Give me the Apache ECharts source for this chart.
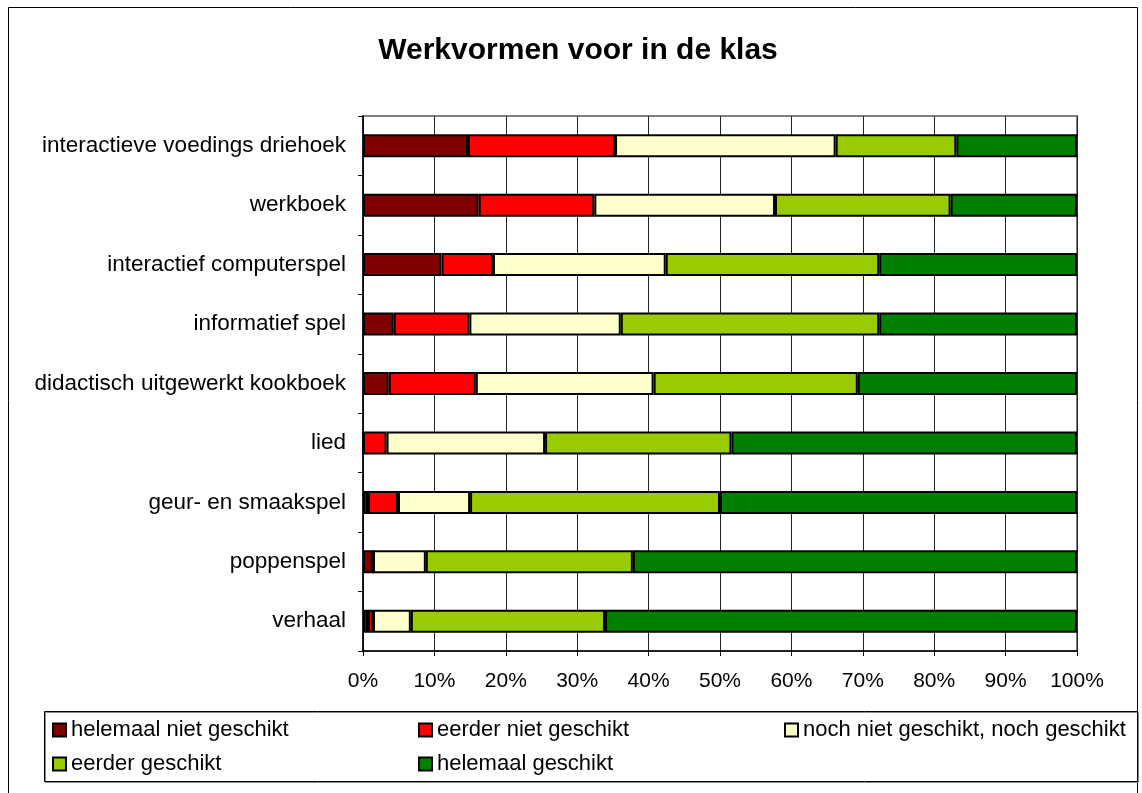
<!DOCTYPE html>
<html>
<head>
<meta charset="utf-8">
<script src="https://cdn.jsdelivr.net/npm/echarts@6/dist/echarts.min.js"></script>
<style>
  html, body { margin: 0; padding: 0; background: #fff; }
  #chart { width: 1142px; height: 793px; }
</style>
</head>
<body>
<div id="chart"></div>
<script>
// categories, top to bottom
const categories = [
  "interactieve voedings driehoek",
  "werkboek",
  "interactief computerspel",
  "informatief spel",
  "didactisch uitgewerkt kookboek",
  "lied",
  "geur- en smaakspel",
  "poppenspel",
  "verhaal"
];

// percentages per answer, same order as categories
const helemaalNiet = [14.7, 16.2, 11.0, 4.3, 3.6, 0, 0.7, 1.4, 0.7];
const eerderNiet = [20.6, 16.2, 7.2, 10.6, 12.2, 3.3, 4.2, 0, 0.7];
const nochNoch = [30.9, 25.3, 24.2, 21.2, 24.9, 22.2, 10.1, 7.4, 5.3];
const eerderGeschikt = [16.9, 24.6, 29.9, 36.2, 28.6, 26.1, 35.0, 29.0, 27.2];
const helemaalGeschikt = [16.9, 17.7, 27.7, 27.7, 30.7, 48.4, 50.0, 62.2, 66.1];

const seriesNames = [
  "helemaal niet geschikt",
  "eerder niet geschikt",
  "noch niet geschikt, noch geschikt",
  "eerder geschikt",
  "helemaal geschikt"
];
const seriesData = [helemaalNiet, eerderNiet, nochNoch, eerderGeschikt, helemaalGeschikt];
const colors = ["#800000", "#ff0000", "#ffffcc", "#99cc00", "#008000"];

const FONT = "'Liberation Sans', Arial, sans-serif";

let chart = echarts.init(document.getElementById("chart"));

// one legend block per column, like the excel layout
function legendCol(left, names) {
  return {
    orient: "vertical",
    left: left,
    top: 719,
    padding: 0,
    data: names,
    itemWidth: 13,
    itemHeight: 13,
    itemGap: 12,
    icon: "rect",
    selectedMode: false,
    textStyle: { fontFamily: FONT, fontSize: 22, color: "#000" },
    itemStyle: { borderColor: "#000", borderWidth: 2 }
  };
}

let option = {
  animation: false,
  color: colors,
  title: {
    text: "Werkvormen voor in de klas",
    left: 573,
    textAlign: "center",
    top: 31,
    textStyle: { fontFamily: FONT, fontSize: 30, fontWeight: "bold", color: "#000" }
  },
  legend: [
    legendCol(52, [seriesNames[0], seriesNames[3]]),
    legendCol(418, [seriesNames[1], seriesNames[4]]),
    legendCol(784, [seriesNames[2]])
  ],
  grid: {
    left: 363,
    top: 116,
    right: 65,
    bottom: 142,
    show: true,
    borderColor: "#808080",
    borderWidth: 2
  },
  xAxis: {
    type: "value",
    min: 0,
    max: 100,
    interval: 10,
    axisLine: { show: true, lineStyle: { color: "#000", width: 1.5 } },
    axisTick: { show: true, length: 5, lineStyle: { color: "#000" } },
    axisLabel: {
      formatter: "{value}%",
      fontFamily: FONT,
      fontSize: 21,
      color: "#000",
      margin: 20
    },
    splitLine: { show: true, lineStyle: { color: "#222", width: 1 } }
  },
  yAxis: {
    type: "category",
    inverse: true,
    data: categories,
    axisLine: { show: true, lineStyle: { color: "#000", width: 1.5 } },
    axisTick: { show: true, length: 5, alignWithLabel: false, lineStyle: { color: "#000" } },
    axisLabel: { fontFamily: FONT, fontSize: 22.5, color: "#000", margin: 17 },
    splitLine: { show: false }
  },
  series: seriesNames.map((name, i) => ({
    name: name,
    type: "bar",
    stack: "total",
    barWidth: 23,
    data: seriesData[i],
    itemStyle: { color: colors[i], borderColor: "#000", borderWidth: 2 }
  })),
  graphic: [
    {
      type: "rect",
      shape: { x: 8.5, y: 7.5, width: 1129, height: 800 },
      style: { fill: null, stroke: "#000", lineWidth: 1 },
      silent: true
    },
    {
      type: "rect",
      shape: { x: 44.5, y: 711.5, width: 1093, height: 70 },
      style: { fill: null, stroke: "#000", lineWidth: 1, shadowColor: "#888", shadowOffsetX: 1, shadowOffsetY: 1 },
      silent: true
    }
  ]
};

chart.setOption(option);
</script>
</body>
</html>
